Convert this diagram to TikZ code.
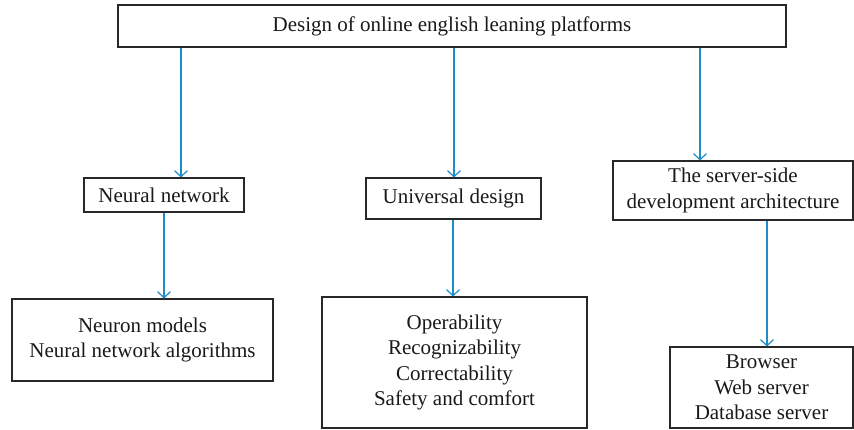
\documentclass[tikz,border=0pt]{standalone}
\usepackage{fontspec}
\setmainfont{Liberation Serif}
\usetikzlibrary{arrows.meta}
\definecolor{arrblue}{RGB}{30,140,200}
\definecolor{boxgray}{RGB}{40,40,40}
\begin{document}
\begin{tikzpicture}[x=1pt,y=-1pt,
  box/.style={draw=boxgray,line width=1.1pt,inner sep=0pt,align=center,
    font=\fontsize{21}{25.3}\selectfont,text=black!90},
  arr/.style={draw=arrblue,line width=1.2pt,-{Straight Barb[length=6pt,width=13pt]}}]
\useasboundingbox (0,0) rectangle (854,430);
\node[box,minimum width=668pt,minimum height=42pt] (top) at (452,26) {Design of online english leaning platforms};
\node[box,minimum width=160pt,minimum height=34pt] (nn) at (164,195) {Neural network};
\node[box,minimum width=175pt,minimum height=41pt] (ud) at (453.5,198.5) {Universal design};
\node[box,minimum width=240pt,minimum height=59pt] (ss) at (733,190.5) {The server-side\\development architecture};
\node[box,minimum width=261pt,minimum height=82pt] (nm) at (142.5,340) {Neuron models\\Neural network algorithms};
\node[box,minimum width=265pt,minimum height=131pt] (op) at (454.5,362.5) {Operability\\Recognizability\\Correctability\\Safety and comfort};
\node[box,minimum width=183pt,minimum height=81pt] (br) at (761.5,387.5) {Browser\\Web server\\Database server};
\draw[arr] (top.south -| 181,0) -- (nn.north -| 181,0);
\draw[arr] (top.south -| 454,0) -- (ud.north -| 454,0);
\draw[arr] (top.south -| 700,0) -- (ss.north -| 700,0);
\draw[arr] (nn.south -| 164,0) -- (nm.north -| 164,0);
\draw[arr] (ud.south -| 453,0) -- (op.north -| 453,0);
\draw[arr] (ss.south -| 767,0) -- (br.north -| 767,0);
\end{tikzpicture}
\end{document}
